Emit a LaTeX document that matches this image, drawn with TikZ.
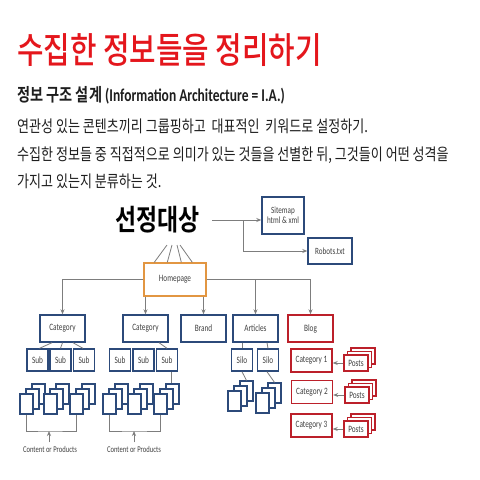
\documentclass[tikz,border=0pt]{standalone}
\usepackage{fontspec}
\setmainfont[FakeStretch=0.75]{Carlito}
\newfontfamily\kr[FakeStretch=0.79, BoldFont={Noto Sans CJK KR Bold}]{Noto Sans CJK KR}
\newfontfamily\krtitle[FakeStretch=0.8]{Noto Sans CJK KR Medium}
\usetikzlibrary{arrows.meta}

\definecolor{titlered}{RGB}{228,22,28}
\definecolor{bodyblack}{RGB}{30,30,30}
\definecolor{boxblue}{RGB}{44,74,122}
\definecolor{boxred}{RGB}{188,32,42}
\definecolor{boxorange}{RGB}{226,150,66}
\definecolor{labelgray}{RGB}{64,64,64}
\definecolor{linkgray}{RGB}{125,125,125}

\tikzset{
  box/.style={draw=boxblue, line width=1.4pt, fill=white, inner sep=0pt, align=center,
    text=labelgray, font=\fontsize{9.7}{9.7}\selectfont},
  catbox/.style={box, minimum width=45pt, minimum height=27pt},
  subbox/.style={box, minimum width=21pt, minimum height=22pt},
  redbox/.style={box, draw=boxred},
  sheet/.style={draw=boxblue, line width=1.2pt, fill=white, inner sep=0pt,
    minimum width=13pt, minimum height=20pt},
  postsheet/.style={draw=boxred, line width=1.2pt, fill=white, inner sep=0pt,
    minimum width=24pt, minimum height=16pt, text=labelgray, font=\fontsize{9.7}{9.7}\selectfont},
  textline/.style={anchor=base west, inner sep=0pt, text=bodyblack},
  link/.style={draw=linkgray, line width=0.8pt},
  arr/.style={link, -{Stealth[length=5pt,width=4pt]}},
}

% three overlapping sheets, front one centred at (#2,#3)
\newcommand{\docstack}[3]{%
  \node[sheet] (#1c) at (#2+12,#3-10) {};
  \node[sheet] (#1b) at (#2+6,#3-5) {};
  \node[sheet] (#1a) at (#2,#3) {};}
\newcommand{\poststack}[3]{%
  \node[postsheet] (#1c) at (#2+7,#3-7) {};
  \node[postsheet] (#1b) at (#2+3.5,#3-3.5) {};
  \node[postsheet] (#1a) at (#2,#3) {Posts};}

\begin{document}
\begin{tikzpicture}[x=1pt, y=-1pt]
  \useasboundingbox[fill=white] (0,0) rectangle (480,480);

  % Heading and text
  \node[textline, text=titlered, font=\krtitle\fontsize{36}{36}\selectfont] (title) at (17,63) {수집한 정보들을 정리하기};
  \node[textline, font=\fontsize{18}{18}\selectfont\bfseries] (ia) at (17,101) {{\kr\bfseries 정보 구조 설계} (Information Architecture = I.A.)};
  \node[textline, font=\kr\fontsize{16.5}{16.5}\selectfont] (line1) at (17,132) {연관성 있는 콘텐츠끼리 그룹핑하고\ \ 대표적인\ \ 키워드로 설정하기.};
  \node[textline, font=\kr\fontsize{16.5}{16.5}\selectfont] (line2) at (17,160) {수집한 정보들 중 직접적으로 의미가 있는 것들을 선별한 뒤, 그것들이 어떤 성격을};
  \node[textline, font=\kr\fontsize{16.5}{16.5}\selectfont] (line3) at (17,187) {가지고 있는지 분류하는 것.};

  % Top of the tree
  \node[inner sep=1pt, font=\kr\bfseries\fontsize{29}{29}\selectfont] (sel) at (157.5,220) {선정대상};
  \node[box, font=\fontsize{9.5}{10.5}\selectfont, minimum width=42pt, minimum height=37pt] (sitemap) at (283,215.5) {Sitemap\\html \& xml};
  \node[box, font=\fontsize{9.5}{10.5}\selectfont, minimum width=44pt, minimum height=26pt] (robots) at (330,251) {Robots.txt};
  \node[box, draw=boxorange, minimum width=62pt, minimum height=33pt] (hp) at (175,279.5) {Homepage};

  \coordinate (selout) at (212,220);
  \coordinate (fork) at (243,220);
  \coordinate (fan) at (174,245);
  \draw[arr] (selout) -- (selout -| sitemap.west);
  \draw[arr] (fork) |- (robots.west);
  \foreach \a/\b in {11/-7, 24/-2, 38/3, 49/6}
    \draw[link] ([xshift=\a pt]hp.north west) -- ([xshift=\b pt]fan);

  % Second level
  \node[catbox] (cat1) at (62.5,328.5) {Category};
  \node[catbox] (cat2) at (145.5,328.5) {Category};
  \node[catbox] (brand) at (203.5,328.5) {Brand};
  \node[catbox] (articles) at (255.5,328.5) {Articles};
  \node[catbox, draw=boxred] (blog) at (310.5,328.5) {Blog};

  \draw[arr] (hp.west) -| (cat1.north);
  \draw[arr] (cat2.north |- hp.south) -- (cat2.north);
  \draw[arr] (brand.north |- hp.south) -- (brand.north);
  \draw[arr] (articles.north |- hp.east) -- (articles.north);
  \draw[arr] (hp.east) -| (blog.north);

  % Subs and silos
  \node[subbox] (c1s1) at (37.5,360) {Sub};
  \node[subbox] (c1s2) at (60.5,360) {Sub};
  \node[subbox] (c1s3) at (84,360) {Sub};
  \node[subbox] (c2s1) at (120,360) {Sub};
  \node[subbox] (c2s2) at (143.5,360) {Sub};
  \node[subbox] (c2s3) at (167,360) {Sub};
  \node[subbox] (silo1) at (242,360) {Silo};
  \node[subbox] (silo2) at (268,360) {Silo};

  \draw[link] ([xshift=-10.5pt]cat1.south) -- ([xshift=2pt]c1s1.north);
  \draw[link] (cat1.south) -- (c1s2.north);
  \draw[link] ([xshift=10.5pt]cat1.south) -- ([xshift=-1pt]c1s3.north);
  \draw[link] ([xshift=13.5pt]cat2.south) -- (c2s3.north);
  \draw[link] ([xshift=-13.5pt]articles.south) -- (silo1.north);
  \draw[link] ([xshift=11.5pt]articles.south) -- (silo2.north);

  % Content or products
  \docstack{g1}{26.5}{404}
  \docstack{g2}{50.5}{404}
  \docstack{g3}{76.5}{404}
  \docstack{g4}{109.5}{404}
  \docstack{g5}{134.5}{404}
  \docstack{g6}{160.5}{404}
  \docstack{s1}{234.5}{401}
  \docstack{s2}{262.5}{403}

  \draw[link] ([xshift=4pt]c2s3.south) -- ([xshift=-1.5pt]g6c.north);
  \draw[link] (silo1.south) -- (s1c.north);
  \draw[link] ([xshift=-1pt]silo2.south) -- (s2c.north);

  \node[font=\fontsize{8.8}{8.8}\selectfont, text=labelgray] (cp1) at (50,449) {Content or Products};
  \node[font=\fontsize{8.8}{8.8}\selectfont, text=labelgray] (cp2) at (134,449) {Content or Products};
  \coordinate (br1) at (49,431);
  \coordinate (br2) at (134,431);
  \draw[link] (g1a.south) |- (br1) -| (g3a.south);
  \draw[link] (g4a.south) |- (br2) -| (g6a.south);
  \draw[arr] (cp1.north -| br1) -- (br1);
  \draw[arr] (cp2.north -| br2) -- (br2);

  % Blog part
  \node[redbox, minimum width=41pt, minimum height=23pt] (bc1) at (311.5,360.5) {Category 1};
  \node[redbox, minimum width=41pt, minimum height=23pt] (bc2) at (312,392) {Category 2};
  \node[redbox, minimum width=41pt, minimum height=23pt] (bc3) at (311.5,425.5) {Category 3};
  \poststack{p1}{356}{363}
  \poststack{p2}{357}{395}
  \poststack{p3}{356}{429}
  \draw[arr] (p1a.west) -- (p1a.west -| bc1.east);
  \draw[arr] (p2a.west) -- (p2a.west -| bc2.east);
  \draw[arr] (p3a.west) -- (p3a.west -| bc3.east);
\end{tikzpicture}
\end{document}
